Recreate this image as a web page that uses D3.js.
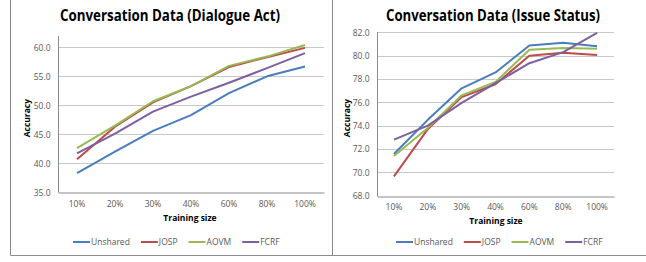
<!DOCTYPE html>
<html>
<head>
<meta charset="utf-8">
<script src="https://cdn.jsdelivr.net/npm/d3@7"></script>
<style>
  body { margin: 0; background: #fff; }
  svg { display: block; }
  text { font-family: "Open Sans", "Liberation Sans", sans-serif; }
</style>
</head>
<body>
<div id="chart"></div>
<script>
const trainingSizes = ["10%", "20%", "30%", "40%", "60%", "80%", "100%"];
const seriesNames = ["Unshared", "JOSP", "AOVM", "FCRF"];
const seriesColors = ["#4A7EBB", "#BE4B48", "#98B954", "#7D60A0"];

// Dialogue Act
const actUnshared = [38.3, 42.0, 45.6, 48.3, 52.1, 55.0, 56.7];
const actJOSP     = [40.7, 46.3, 50.5, 53.3, 56.6, 58.3, 59.9];
const actAOVM     = [42.6, 46.5, 50.7, 53.3, 56.8, 58.4, 60.4];
const actFCRF     = [41.7, 45.1, 48.9, 51.5, 53.9, 56.4, 59.0];
const actTicks = [35, 40, 45, 50, 55, 60];

// Issue Status
const issueUnshared = [71.57, 74.5, 77.2, 78.56, 80.87, 81.1, 80.8];
const issueJOSP     = [69.66, 73.7, 76.45, 77.55, 80.0, 80.25, 80.05];
const issueAOVM     = [71.4, 73.8, 76.6, 77.75, 80.5, 80.65, 80.6];
const issueFCRF     = [72.8, 74.0, 75.95, 77.65, 79.35, 80.3, 81.95];
const issueTicks = [68, 70, 72, 74, 76, 78, 80, 82];

const width = 646, height = 262;

const svg = d3.select("#chart")
    .append("svg")
    .attr("width", width)
    .attr("height", height);

// outer frames
svg.append("path")
    .attr("d", "M10.5,0V255.5H646M332.5,0V255.5")
    .attr("fill", "none")
    .attr("stroke", "#8c8c8c")
    .attr("stroke-width", 1);

const charts = [
    {
        title: "Conversation Data (Dialogue Act)", titleX: 170, titleY: 21, titleW: 220,
        left: 58, right: 324, top: 36, bottom: 192.3,
        domain: [35, 61.95], ticks: actTicks,
        series: [actUnshared, actJOSP, actAOVM, actFCRF],
        xLabelY: 207, xTitleX: 190, xTitleY: 221, yTitleX: 30, legendX: 73
    },
    {
        title: "Conversation Data (Issue Status)", titleX: 493, titleY: 21, titleW: 214,
        left: 377, right: 614, top: 32.3, bottom: 195.7,
        domain: [68, 82], ticks: issueTicks,
        series: [issueUnshared, issueJOSP, issueAOVM, issueFCRF],
        xLabelY: 210, xTitleX: 496, xTitleY: 224, yTitleX: 350, legendX: 396
    }
];

charts.forEach(c => {
    const g = svg.append("g");

    const x = d3.scaleBand()
        .domain(trainingSizes)
        .range([c.left, c.right]);

    const y = d3.scaleLinear()
        .domain(c.domain)
        .range([c.bottom, c.top]);

    // title
    g.append("text")
        .attr("x", c.titleX)
        .attr("y", c.titleY)
        .attr("text-anchor", "middle")
        .attr("font-size", 16)
        .attr("font-weight", "bold")
        .attr("fill", "#000")
        .attr("textLength", c.titleW)
        .attr("lengthAdjust", "spacingAndGlyphs")
        .text(c.title);

    // gridlines
    g.selectAll(".grid")
        .data(c.ticks.slice(1))
        .enter()
        .append("line")
        .attr("x1", c.left)
        .attr("x2", c.right)
        .attr("y1", d => Math.round(y(d)) + 0.5)
        .attr("y2", d => Math.round(y(d)) + 0.5)
        .attr("stroke", "#c8c8c8");

    // y axis
    const yAxis = g.append("g")
        .attr("transform", `translate(${c.left + 0.5},0)`)
        .call(d3.axisLeft(y).tickValues(c.ticks).tickSize(0).tickPadding(8).tickFormat(d3.format(".1f")));
    yAxis.select(".domain").attr("stroke", "#8c8c8c").attr("d", `M0,${c.top}V${Math.round(c.bottom) + 0.5}`);
    yAxis.selectAll("text").attr("font-size", 8.5).attr("fill", "#595959")
        .attr("font-family", "'Open Sans', sans-serif");

    // x axis
    const xAxis = g.append("g")
        .attr("transform", `translate(0,${Math.round(c.bottom) + 0.5})`)
        .call(d3.axisBottom(x).tickSize(0).tickPadding(0));
    xAxis.select(".domain").attr("stroke", "#8c8c8c");
    xAxis.selectAll("text")
        .attr("y", c.xLabelY - Math.round(c.bottom) - 3)
        .attr("dy", "0.32em")
        .attr("font-size", 8.5)
        .attr("fill", "#595959")
        .attr("font-family", "'Open Sans', sans-serif");

    // axis titles
    g.append("text")
        .attr("x", c.xTitleX)
        .attr("y", c.xTitleY)
        .attr("text-anchor", "middle")
        .attr("font-size", 8.5)
        .attr("font-weight", "bold")
        .text("Training size");

    g.append("text")
        .attr("transform", `translate(${c.yTitleX},${(c.top + c.bottom) / 2 + 4}) rotate(-90)`)
        .attr("text-anchor", "middle")
        .attr("font-size", 8.5)
        .attr("font-weight", "bold")
        .text("Accuracy");

    // lines
    const line = d3.line()
        .x((d, i) => x(trainingSizes[i]) + x.bandwidth() / 2)
        .y(d => y(d));

    c.series.forEach((s, i) => {
        g.append("path")
            .datum(s)
            .attr("fill", "none")
            .attr("stroke", seriesColors[i])
            .attr("stroke-width", 2)
            .attr("stroke-linejoin", "round")
            .attr("d", line);
    });

    // legend
    let lx = c.legendX;
    seriesNames.forEach((name, i) => {
        g.append("line")
            .attr("x1", lx)
            .attr("x2", lx + 17)
            .attr("y1", 242)
            .attr("y2", 242)
            .attr("stroke", seriesColors[i])
            .attr("stroke-width", 2);
        const t = g.append("text")
            .attr("x", lx + 18)
            .attr("y", 245)
            .attr("font-size", 8.5)
            .attr("fill", "#595959")
            .text(name);
        lx += 18 + t.node().getComputedTextLength() + 11;
    });
});
</script>
</body>
</html>
